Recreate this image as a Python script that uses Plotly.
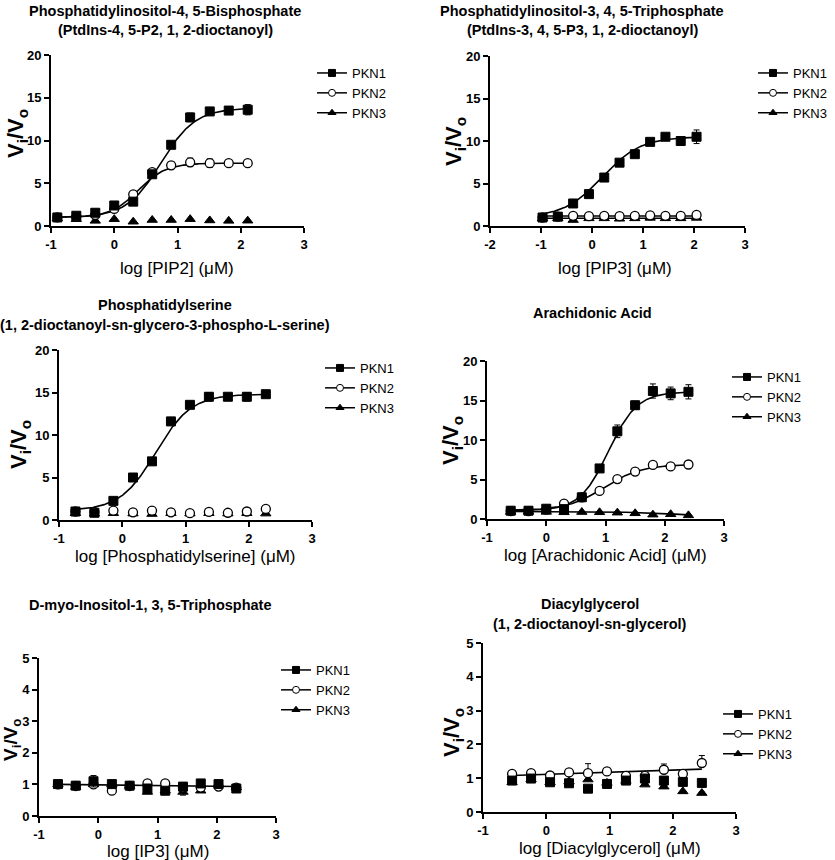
import plotly.graph_objects as go

W, H = 835, 860

# ---------------- data ----------------
series_names = ["PKN1", "PKN2", "PKN3"]

# Panel 1: PIP2
pip2_x = [-0.90, -0.60, -0.30, 0.00, 0.30, 0.60, 0.90, 1.20, 1.51, 1.81, 2.11]
pip2_pkn1 = [1.0, 1.2, 1.55, 2.4, 2.85, 6.05, 9.5, 12.7, 13.4, 13.5, 13.6]
pip2_pkn1_err = [0.2, 0.2, 0.15, 0.2, 0.3, 0.3, 0.3, 0.5, 0.2, 0.4, 0.6]
pip2_pkn2 = [1.0, 1.1, 1.3, 2.0, 3.7, 6.3, 7.1, 7.45, 7.35, 7.35, 7.35]
pip2_pkn2_err = [0.1, 0.1, 0.1, 0.15, 0.2, 0.3, 0.4, 0.5, 0.5, 0.1, 0.3]
pip2_pkn3 = [0.9, 0.8, 0.6, 0.8, 0.5, 0.7, 0.7, 0.8, 0.65, 0.6, 0.62]
pip2_pkn3_err = [0.05] * 11

# Panel 2: PIP3
pip3_x = [-0.97, -0.67, -0.37, -0.06, 0.24, 0.54, 0.84, 1.14, 1.44, 1.74, 2.05]
pip3_pkn1 = [1.0, 1.1, 2.65, 3.75, 5.7, 7.45, 8.45, 9.9, 10.5, 10.0, 10.5]
pip3_pkn1_err = [0.1, 0.1, 0.2, 0.2, 0.2, 0.2, 0.3, 0.3, 0.2, 0.3, 0.8]
pip3_pkn2 = [1.0, 1.1, 1.2, 1.15, 1.2, 1.15, 1.2, 1.25, 1.2, 1.2, 1.3]
pip3_pkn2_err = [0.05] * 11
pip3_pkn3 = [0.9, 0.9, 0.7, 0.9, 0.9, 0.85, 0.9, 0.95, 0.9, 0.9, 0.95]
pip3_pkn3_err = [0.05] * 11

# Panel 3: Phosphatidylserine
ps_x = [-0.74, -0.44, -0.14, 0.17, 0.47, 0.77, 1.07, 1.37, 1.67, 1.97, 2.27]
ps_pkn1 = [1.0, 0.85, 2.25, 5.0, 6.9, 11.6, 13.55, 14.5, 14.5, 14.5, 14.8]
ps_pkn1_err = [0.1, 0.1, 0.2, 0.2, 0.2, 0.3, 0.2, 0.5, 0.2, 0.5, 0.2]
ps_pkn2 = [1.0, 0.95, 1.1, 0.9, 1.1, 0.9, 0.8, 0.95, 0.85, 1.0, 1.3]
ps_pkn2_err = [0.05] * 11
ps_pkn3 = [0.8, 0.75, 0.8, 0.75, 0.7, 0.8, 0.75, 0.8, 0.75, 0.8, 0.75]
ps_pkn3_err = [0.05] * 11

# Panel 4: Arachidonic acid
aa_x = [-0.6, -0.3, 0.0, 0.3, 0.6, 0.9, 1.2, 1.5, 1.8, 2.1, 2.4]
aa_pkn1 = [1.05, 1.05, 1.3, 1.25, 2.75, 6.4, 11.1, 14.4, 16.2, 15.9, 16.1]
aa_pkn1_err = [0.1, 0.1, 0.2, 0.2, 0.2, 0.3, 0.8, 0.5, 0.9, 0.8, 0.9]
aa_pkn2 = [1.0, 1.0, 1.2, 1.95, 2.75, 3.55, 5.05, 6.0, 6.85, 6.65, 6.9]
aa_pkn2_err = [0.05, 0.05, 0.05, 0.1, 0.1, 0.1, 0.15, 0.15, 0.15, 0.2, 0.4]
aa_pkn3 = [0.9, 0.9, 0.9, 0.85, 0.88, 0.85, 0.8, 0.72, 0.55, 0.6, 0.46]
aa_pkn3_err = [0.05] * 11

# Panel 5: IP3
ip3_x = [-0.68, -0.38, -0.08, 0.23, 0.53, 0.83, 1.13, 1.43, 1.73, 2.03, 2.33]
ip3_pkn1 = [1.01, 0.96, 1.1, 1.01, 0.96, 0.87, 0.8, 0.93, 1.03, 1.01, 0.87]
ip3_pkn1_err = [0.03, 0.05, 0.18, 0.03, 0.05, 0.08, 0.08, 0.12, 0.05, 0.03, 0.06]
ip3_pkn2 = [1.0, 0.95, 1.0, 0.8, 0.95, 1.03, 1.03, 0.9, 0.9, 0.93, 0.9]
ip3_pkn2_err = [0.03] * 11
ip3_pkn3 = [1.0, 0.92, 1.0, 1.0, 0.95, 0.76, 0.8, 0.76, 0.8, 1.0, 0.9]
ip3_pkn3_err = [0.03, 0.03, 0.03, 0.03, 0.03, 0.05, 0.05, 0.1, 0.05, 0.03, 0.03]

# Panel 6: Diacylglycerol
dag_x = [-0.54, -0.24, 0.06, 0.36, 0.66, 0.96, 1.26, 1.56, 1.86, 2.16, 2.46]
dag_pkn1 = [0.93, 0.99, 0.88, 0.85, 0.69, 0.83, 0.93, 0.99, 0.93, 0.89, 0.86]
dag_pkn1_err = [0.03] * 11
dag_pkn2 = [1.13, 1.15, 1.08, 1.17, 1.15, 1.2, 1.07, 1.07, 1.25, 1.13, 1.45]
dag_pkn2_err = [0.03, 0.03, 0.03, 0.03, 0.28, 0.03, 0.03, 0.03, 0.17, 0.03, 0.22]
dag_pkn3 = [0.88, 0.97, 0.88, 0.9, 0.96, 0.86, 0.92, 0.81, 0.75, 0.61, 0.56]
dag_pkn3_err = [0.03] * 11

# fitted-curve parameters: ("sig", bottom, top, logEC50, hill) or ("lin", intercept, slope)
pip2_fits = {"PKN1": ("sig", 1.0, 13.8, 0.74, 1.6), "PKN2": ("sig", 1.0, 7.35, 0.38, 2.0)}
pip3_fits = {"PKN1": ("sig", 1.0, 10.5, 0.2, 1.15), "PKN2": ("lin", 1.17, 0.0), "PKN3": ("lin", 0.92, 0.0)}
ps_fits = {"PKN1": ("sig", 1.1, 14.8, 0.53, 1.55)}
aa_fits = {"PKN1": ("sig", 1.05, 16.1, 1.05, 1.8), "PKN2": ("sig", 1.1, 6.9, 0.98, 1.4),
           "PKN3": ("sig", 0.0, 0.95, 2.5, -0.8)}
ip3_fits = {"PKN1": ("lin", 0.985, -0.023)}
dag_fits = {"PKN2": ("lin", 1.114, 0.0633)}

# tick labels
xticks_a = [-1, 0, 1, 2, 3]
xticks_a_text = ["-1", "0", "1", "2", "3"]
xticks_b = [-2, -1, 0, 1, 2, 3]
xticks_b_text = ["-2", "-1", "0", "1", "2", "3"]

titles = [
    ("Phosphatidylinositol-4, 5-Bisphosphate", "(PtdIns-4, 5-P2, 1, 2-dioctanoyl)"),
    ("Phosphatidylinositol-3, 4, 5-Triphosphate", "(PtdIns-3, 4, 5-P3, 1, 2-dioctanoyl)"),
    ("Phosphatidylserine", "(1, 2-dioctanoyl-sn-glycero-3-phospho-L-serine)"),
    ("Arachidonic Acid", None),
    ("D-myo-Inositol-1, 3, 5-Triphosphate", None),
    ("Diacylglycerol", "(1, 2-dioctanoyl-sn-glycerol)"),
]
xtitles = ["log [PIP2] (μM)", "log [PIP3] (μM)", "log [Phosphatidylserine] (μM)",
           "log [Arachidonic Acid] (μM)", "log [IP3] (μM)", "log [Diacylglycerol] (μM)"]
ytitle = "V<sub>i</sub>/V<sub>o</sub>"

panels = [
    dict(x=pip2_x, ys=[pip2_pkn1, pip2_pkn2, pip2_pkn3], errs=[pip2_pkn1_err, pip2_pkn2_err, pip2_pkn3_err],
         fits=pip2_fits, xr=[-1, 3], xt=(xticks_a, xticks_a_text), yr=[0, 20], dy=5),
    dict(x=pip3_x, ys=[pip3_pkn1, pip3_pkn2, pip3_pkn3], errs=[pip3_pkn1_err, pip3_pkn2_err, pip3_pkn3_err],
         fits=pip3_fits, xr=[-2, 3], xt=(xticks_b, xticks_b_text), yr=[0, 20], dy=5),
    dict(x=ps_x, ys=[ps_pkn1, ps_pkn2, ps_pkn3], errs=[ps_pkn1_err, ps_pkn2_err, ps_pkn3_err],
         fits=ps_fits, xr=[-1, 3], xt=(xticks_a, xticks_a_text), yr=[0, 20], dy=5),
    dict(x=aa_x, ys=[aa_pkn1, aa_pkn2, aa_pkn3], errs=[aa_pkn1_err, aa_pkn2_err, aa_pkn3_err],
         fits=aa_fits, xr=[-1, 3], xt=(xticks_a, xticks_a_text), yr=[0, 20], dy=5),
    dict(x=ip3_x, ys=[ip3_pkn1, ip3_pkn2, ip3_pkn3], errs=[ip3_pkn1_err, ip3_pkn2_err, ip3_pkn3_err],
         fits=ip3_fits, xr=[-1, 3], xt=(xticks_a, xticks_a_text), yr=[0, 5], dy=1),
    dict(x=dag_x, ys=[dag_pkn1, dag_pkn2, dag_pkn3], errs=[dag_pkn1_err, dag_pkn2_err, dag_pkn3_err],
         fits=dag_fits, xr=[-1, 3], xt=(xticks_a, xticks_a_text), yr=[0, 5], dy=1, uponly=True),
]

# ---------------- layout geometry (pixels) ----------------
boxes = [(51, 304, 55, 226), (490, 745, 56, 226), (59, 312, 350, 520),
         (487, 724, 361, 519), (39, 276, 658, 816), (483, 736, 643, 812)]
legend_pos = [(312, 58), (753, 58), (320, 353), (727, 362), (276, 655), (718, 699)]
title_pos = [(165, 11, 30), (582, 11, 30), (165, 305, 325), (592, 313, None), (150, 605, None), (590, 604, 624)]
xtitle_pos = [(177, 268), (615, 268), (185, 556), (605, 555), (158, 851), (610, 848)]
ytitle_pos = [(17, 134), (455, 141), (20, 445), (452, 441), (12, 740), (453, 733)]
ytitle_size = [22, 22, 22, 22, 19, 22]

SANS = "Liberation Sans, Arial, sans-serif"

def px(xp):
    return xp / W

def py(yp):
    return 1 - yp / H

symbols = [dict(symbol="square", size=9, color="black", line=dict(color="black", width=1)),
           dict(symbol="circle", size=9, color="white", line=dict(color="black", width=1.3)),
           dict(symbol="triangle-up", size=9, color="black", line=dict(color="black", width=1))]
legend_symbols = [dict(symbol="square", size=7, color="black", line=dict(color="black", width=1)),
                  dict(symbol="circle", size=7, color="white", line=dict(color="black", width=1)),
                  dict(symbol="triangle-up", size=7, color="black", line=dict(color="black", width=1))]

def curve(fit, x0, x1, n=200):
    xs = [x0 + (x1 - x0) * i / (n - 1) for i in range(n)]
    if fit[0] == "sig":
        _, b, t, c, h = fit
        ys = [b + (t - b) / (1 + 10 ** ((c - x) * h)) for x in xs]
    else:
        _, a, s = fit
        ys = [a + s * x for x in xs]
    return xs, ys

fig = go.Figure()
layout = dict(width=W, height=H, margin=dict(l=0, r=0, t=0, b=0, autoexpand=False),
              paper_bgcolor="white", plot_bgcolor="white", showlegend=True)
annotations = []

for i, p in enumerate(panels):
    k = "" if i == 0 else str(i + 1)
    xa, ya = "x" + k, "y" + k
    lg = "legend" + k
    x0, x1, y0, y1 = boxes[i]
    axis_common = dict(showline=True, linecolor="black", linewidth=2, ticks="outside", ticklen=5,
                       tickwidth=2, tickcolor="black", showgrid=False, zeroline=False,
                       tickfont=dict(family=SANS, size=13, color="black", weight="bold"))
    layout["xaxis" + k] = dict(domain=[px(x0), px(x1)], range=p["xr"], tickmode="array",
                               tickvals=p["xt"][0], ticktext=p["xt"][1], anchor=ya, **axis_common)
    layout["yaxis" + k] = dict(domain=[py(y1), py(y0)], range=p["yr"], dtick=p["dy"], tick0=0,
                               anchor=xa, **axis_common)
    lx, ly = legend_pos[i]
    layout[lg] = dict(x=px(lx), y=py(ly), xanchor="left", yanchor="top", bgcolor="rgba(0,0,0,0)",
                      font=dict(family=SANS, size=13, color="black"), tracegroupgap=0,
                      itemwidth=30)

    for j, name in enumerate(series_names):
        if name in p["fits"]:
            cx, cy = curve(p["fits"][name], min(p["x"]), max(p["x"]))
            fig.add_trace(go.Scatter(x=cx, y=cy, mode="lines", line=dict(color="black", width=1.6),
                                     xaxis=xa, yaxis=ya, showlegend=False, hoverinfo="skip"))
    for j in [2, 1, 0]:
        err = dict(type="data", array=p["errs"][j], color="black", thickness=1, width=3, visible=True)
        if p.get("uponly"):
            err["symmetric"] = False
            err["arrayminus"] = [0] * len(p["errs"][j])
        fig.add_trace(go.Scatter(x=p["x"], y=p["ys"][j], mode="markers", marker=symbols[j],
                                 error_y=err, xaxis=xa, yaxis=ya, showlegend=False,
                                 name=series_names[j]))
    for j, name in enumerate(series_names):
        fig.add_trace(go.Scatter(x=[None], y=[None], mode="lines+markers", name=name,
                                 marker=legend_symbols[j], line=dict(color="black", width=1.5),
                                 xaxis=xa, yaxis=ya, legend=lg, showlegend=True))

    tx, ty1, ty2 = title_pos[i]
    t1, t2 = titles[i]
    annotations.append(dict(x=px(tx), y=py(ty1), xref="paper", yref="paper", text=t1, showarrow=False,
                            xanchor="center", yanchor="middle",
                            font=dict(family=SANS, size=14.5, color="black", weight="bold")))
    if t2:
        annotations.append(dict(x=px(tx), y=py(ty2), xref="paper", yref="paper", text=t2, showarrow=False,
                                xanchor="center", yanchor="middle",
                                font=dict(family=SANS, size=14.5, color="black", weight="bold")))
    xtx, xty = xtitle_pos[i]
    annotations.append(dict(x=px(xtx), y=py(xty), xref="paper", yref="paper", text=xtitles[i],
                            showarrow=False, xanchor="center", yanchor="middle",
                            font=dict(family=SANS, size=17, color="black")))
    ytx, yty = ytitle_pos[i]
    annotations.append(dict(x=px(ytx), y=py(yty), xref="paper", yref="paper", text=ytitle,
                            showarrow=False, xanchor="center", yanchor="middle", textangle=-90,
                            font=dict(family=SANS, size=ytitle_size[i], color="black", weight="bold")))

layout["annotations"] = annotations
fig.update_layout(**layout)
fig.write_html("out.html", config={"displayModeBar": False},
               post_script="document.body.style.margin='0';document.body.style.padding='0';")
